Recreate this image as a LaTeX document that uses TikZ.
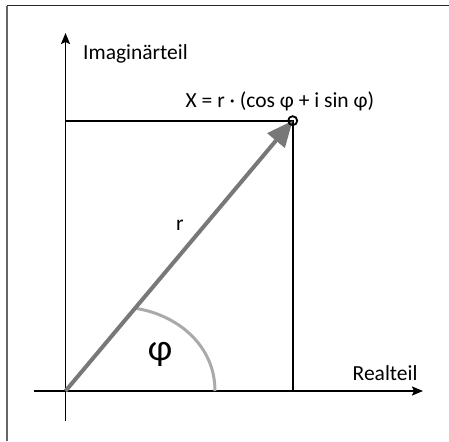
\documentclass[tikz,border=0pt]{standalone}
\usepackage{fontspec}
\setmainfont{Carlito}
\usetikzlibrary{arrows.meta}
\begin{document}
\begin{tikzpicture}[x=1pt,y=-1pt,
  axis/.style={line width=1.8pt,-{Stealth[length=11pt,width=9pt,inset=2pt]}},
  guide/.style={line width=1.8pt},
  vec/.style={line width=4pt,draw={rgb,255:red,120;green,120;blue,120},-{Triangle[length=26pt,width=22pt]}},
  anglearc/.style={line width=3pt,draw={rgb,255:red,170;green,170;blue,170}},
  lbl/.style={inner sep=0pt,font=\fontsize{21.5}{26}\selectfont}
]
\useasboundingbox (0,0) rectangle (449,441);
\fill[white] (0,0) rectangle (449,441);
% frame
\draw[line width=1pt,black!85] (6.5,6) -- (449,6);
\draw[line width=1.6pt,black!60] (6.7,6) -- (6.7,441);
% coordinates
\coordinate (O) at (65.5,391);
\coordinate (P) at (292.7,120.7);
\coordinate (xs) at (34,391);
\coordinate (xe) at (423,391);
\coordinate (ys) at (65.5,421);
\coordinate (ye) at (65.5,33);
\coordinate (Py) at (65.5,120.7);
\coordinate (Px) at (292.7,391);
\coordinate (a1) at (136.5,308.5);
\coordinate (a2) at (215,391);
% axes
\draw[axis] (xs) -- (xe);
\draw[axis] (ys) -- (ye);
% guide lines
\draw[guide] (Py) -- (P) -- (Px);
% angle arc
\draw[anglearc] (a1) .. controls (177,315) and (215,345) .. (a2);
% vector
\draw[vec] (O) -- (P);
\node[circle,draw,line width=1.8pt,minimum size=9pt,inner sep=0pt] (pt) at (P) {};
% labels
\node[lbl,anchor=base west] (im) at (83,60) {Imaginärteil};
\node[lbl,anchor=base west] (re) at (352.5,380) {Realteil};
\node[lbl,anchor=base west] (form) at (185.5,107.3) {X = r · (cos φ + i sin φ)};
\node[lbl,anchor=base west] (r) at (176,230) {r};
\node[inner sep=0pt,font=\fontsize{37.5}{40}\selectfont] (phi) at (160,354) {φ};
\end{tikzpicture}
\end{document}
